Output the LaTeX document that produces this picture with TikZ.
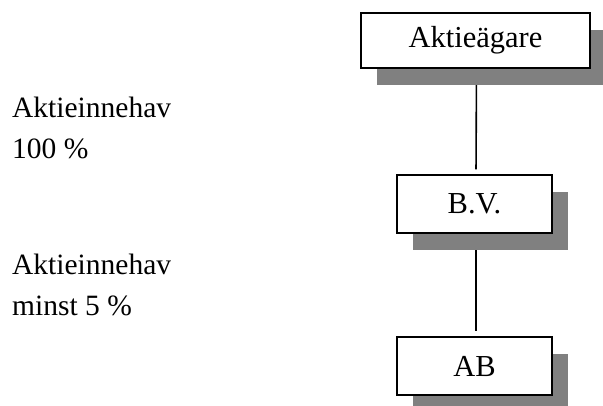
\documentclass[tikz,border=0pt]{standalone}
\usepackage{fontspec}
\setmainfont{Liberation Serif}
\usetikzlibrary{shadows}
\pgfdeclarelayer{background}
\pgfsetlayers{background,main}
\definecolor{shadowgray}{HTML}{808080}
\tikzset{
  box/.style={draw=black, line width=1.5pt, fill=white, inner sep=0pt,
    font=\fontsize{30.5}{36}\selectfont,
    drop shadow={shadow xshift=16pt, shadow yshift=-17pt, fill=shadowgray, opacity=1}},
  lbl/.style={anchor=base west, inner sep=0pt, font=\fontsize{29.5}{35}\selectfont},
  conn/.style={draw=black, line width=1.6pt}
}
\begin{document}
\begin{tikzpicture}[x=1pt,y=-1pt]
\useasboundingbox (0,0) rectangle (603,405);
\node[box, minimum width=229pt, minimum height=55pt] (a) at (475.5,40.5) {Aktieägare};
\node[box, minimum width=155pt, minimum height=58pt] (b) at (474.5,204) {B.V.};
\node[box, minimum width=155pt, minimum height=58pt] (c) at (474.5,366) {AB};
\begin{pgfonlayer}{background}
\draw[conn, shorten >=5pt] ([xshift=1pt]a.south) -- ([xshift=0.5pt]a.south |- b.north);
\draw[conn, shorten >=5pt] ([xshift=1.5pt]b.south) -- ([xshift=1.5pt]b.south |- c.north);
\end{pgfonlayer}
\node[lbl] (t1) at (12,117) {Aktieinnehav};
\node[lbl] (t2) at (12,158) {100 \%};
\node[lbl] (t3) at (12,274) {Aktieinnehav};
\node[lbl] (t4) at (12,315) {minst 5 \%};
\end{tikzpicture}
\end{document}
